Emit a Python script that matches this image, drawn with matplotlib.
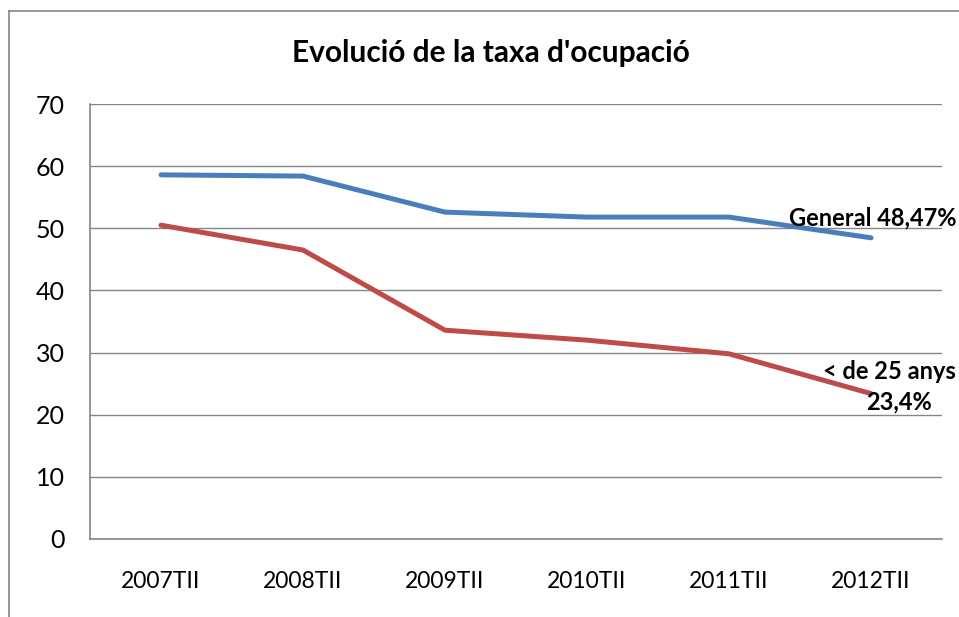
import matplotlib
matplotlib.use("Agg")
import matplotlib.pyplot as plt
from matplotlib.lines import Line2D

plt.rcParams['font.family'] = ['Lato', 'DejaVu Sans']

categories = ["2007TII", "2008TII", "2009TII", "2010TII", "2011TII", "2012TII"]
general = [58.6, 58.4, 52.6, 51.8, 51.8, 48.47]
young = [50.5, 46.5, 33.6, 32.0, 29.8, 23.4]
yticks = [0, 10, 20, 30, 40, 50, 60, 70]

W, H = 959, 617
fig = plt.figure(figsize=(W / 100, H / 100), dpi=100)
ax = fig.add_axes([90 / W, 1 - 539 / H, 852 / W, (539 - 104) / H])

x = list(range(len(categories)))
ax.plot(x, general, color="#4A7EBB", lw=3.6, solid_capstyle="round", zorder=3)
ax.plot(x, young, color="#BE4B48", lw=3.6, solid_capstyle="round", zorder=3)

ax.set_xlim(-0.5, len(categories) - 0.5)
ax.set_ylim(0, 70)
ax.set_yticks(yticks)
ax.set_xticks(x)
ax.set_xticklabels(categories, fontsize=16.5)
ax.set_yticklabels([str(v) for v in yticks], fontsize=18)
ax.tick_params(length=0)
ax.tick_params(axis='y', pad=18)
ax.tick_params(axis='x', pad=23)
ax.yaxis.grid(True, color="#868686", lw=1.0)
ax.set_axisbelow(True)
for s in ["top", "right"]:
    ax.spines[s].set_visible(False)
for s in ["left", "bottom"]:
    ax.spines[s].set_color("#868686")
    ax.spines[s].set_linewidth(1.2)

ax.text(4.42, 50.4, "General 48,47%", fontsize=17, fontweight="bold",
        ha="left", va="baseline", clip_on=False)
ax.text(5.13, 25.7, "< de 25 anys", fontsize=17, fontweight="bold",
        ha="center", va="baseline", clip_on=False)
ax.text(5.2, 20.8, "23,4%", fontsize=17, fontweight="bold",
        ha="center", va="baseline", clip_on=False)

fig.text(491 / W, 1 - 62 / H, "Evolució de la taxa d'ocupació", fontsize=21.5,
         fontweight="bold", ha="center", va="baseline")

# outer chart border
fig.add_artist(Line2D([9 / W, 9 / W], [0, 1 - 11 / H], color="#868686", lw=1.2))
fig.add_artist(Line2D([9 / W, 1], [1 - 11 / H, 1 - 11 / H], color="#868686", lw=1.2))

fig.savefig("out.png", dpi=100)
